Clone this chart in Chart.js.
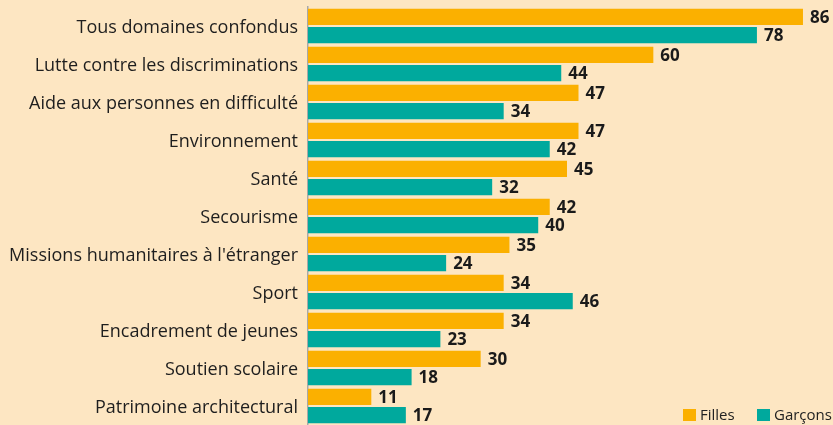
<!DOCTYPE html>
<html><head><meta charset="utf-8">
<script src="https://cdn.jsdelivr.net/npm/chart.js@4"></script>
<style>html,body{margin:0;padding:0;background:#fde6c2;}#wrap{width:833px;height:425px;position:relative;}</style>
</head><body><div id="wrap"><canvas id="c"></canvas></div>
<script>
const categories = ["Tous domaines confondus","Lutte contre les discriminations","Aide aux personnes en difficulté","Environnement","Santé","Secourisme","Missions humanitaires à l'étranger","Sport","Encadrement de jeunes","Soutien scolaire","Patrimoine architectural"];
const filles = [86,60,47,47,45,42,35,34,34,30,11];
const garcons = [78,44,34,42,32,40,24,46,23,18,17];
const seriesNames = ["Filles","Garçons"];
const colors = ["#fbb000","#00a99d"];

const valueLabels = {
  id:'valueLabels',
  afterDatasetsDraw(chart){
    const ctx = chart.ctx;
    ctx.save();
    ctx.font = "bold 17px 'Open Sans'";
    ctx.fillStyle = "#1a1a1a";
    ctx.textBaseline = "middle";
    ctx.textAlign = "left";
    chart.data.datasets.forEach((ds,i)=>{
      chart.getDatasetMeta(i).data.forEach((bar,j)=>{
        ctx.fillText(String(ds.data[j]), bar.x+7, bar.y+1);
      });
    });
    ctx.restore();
  }
};
const customLegend = {
  id:'customLegend',
  afterDraw(chart){
    const ctx = chart.ctx;
    ctx.save();
    ctx.font = "15px 'Open Sans'";
    ctx.textBaseline = "middle";
    ctx.textAlign = "left";
    const xs = [683,757];
    const y = 415;
    chart.data.datasets.forEach((ds,i)=>{
      ctx.fillStyle = ds.backgroundColor;
      ctx.fillRect(xs[i], y-6, 13, 12);
      ctx.fillStyle = "#222";
      ctx.fillText(ds.label, xs[i]+17, y+1);
    });
    ctx.restore();
  }
};

new Chart(document.getElementById('c'), {
  type:'bar',
  data:{
    labels:categories,
    datasets:[
      {label:seriesNames[0], data:filles, backgroundColor:colors[0], barPercentage:0.9, categoryPercentage:0.96},
      {label:seriesNames[1], data:garcons, backgroundColor:colors[1], barPercentage:0.9, categoryPercentage:0.96}
    ]
  },
  options:{
    indexAxis:'y',
    responsive:true,
    maintainAspectRatio:false,
    animation:false,
    layout:{padding:{top:7,right:7,bottom:0,left:0}},
    plugins:{legend:{display:false},tooltip:{enabled:false}},
    scales:{
      x:{display:false,min:0,max:90},
      y:{
        afterFit(s){s.width=308;s.paddingTop=0;s.paddingBottom=0;},
        grid:{display:false,drawTicks:false},
        border:{display:true,color:'#a8a8a8',width:1.5},
        ticks:{color:'#1e1e1e',font:{family:"'Open Sans'",size:18},padding:10,labelOffset:2}
      }
    }
  },
  plugins:[valueLabels,customLegend]
});
</script></body></html>
